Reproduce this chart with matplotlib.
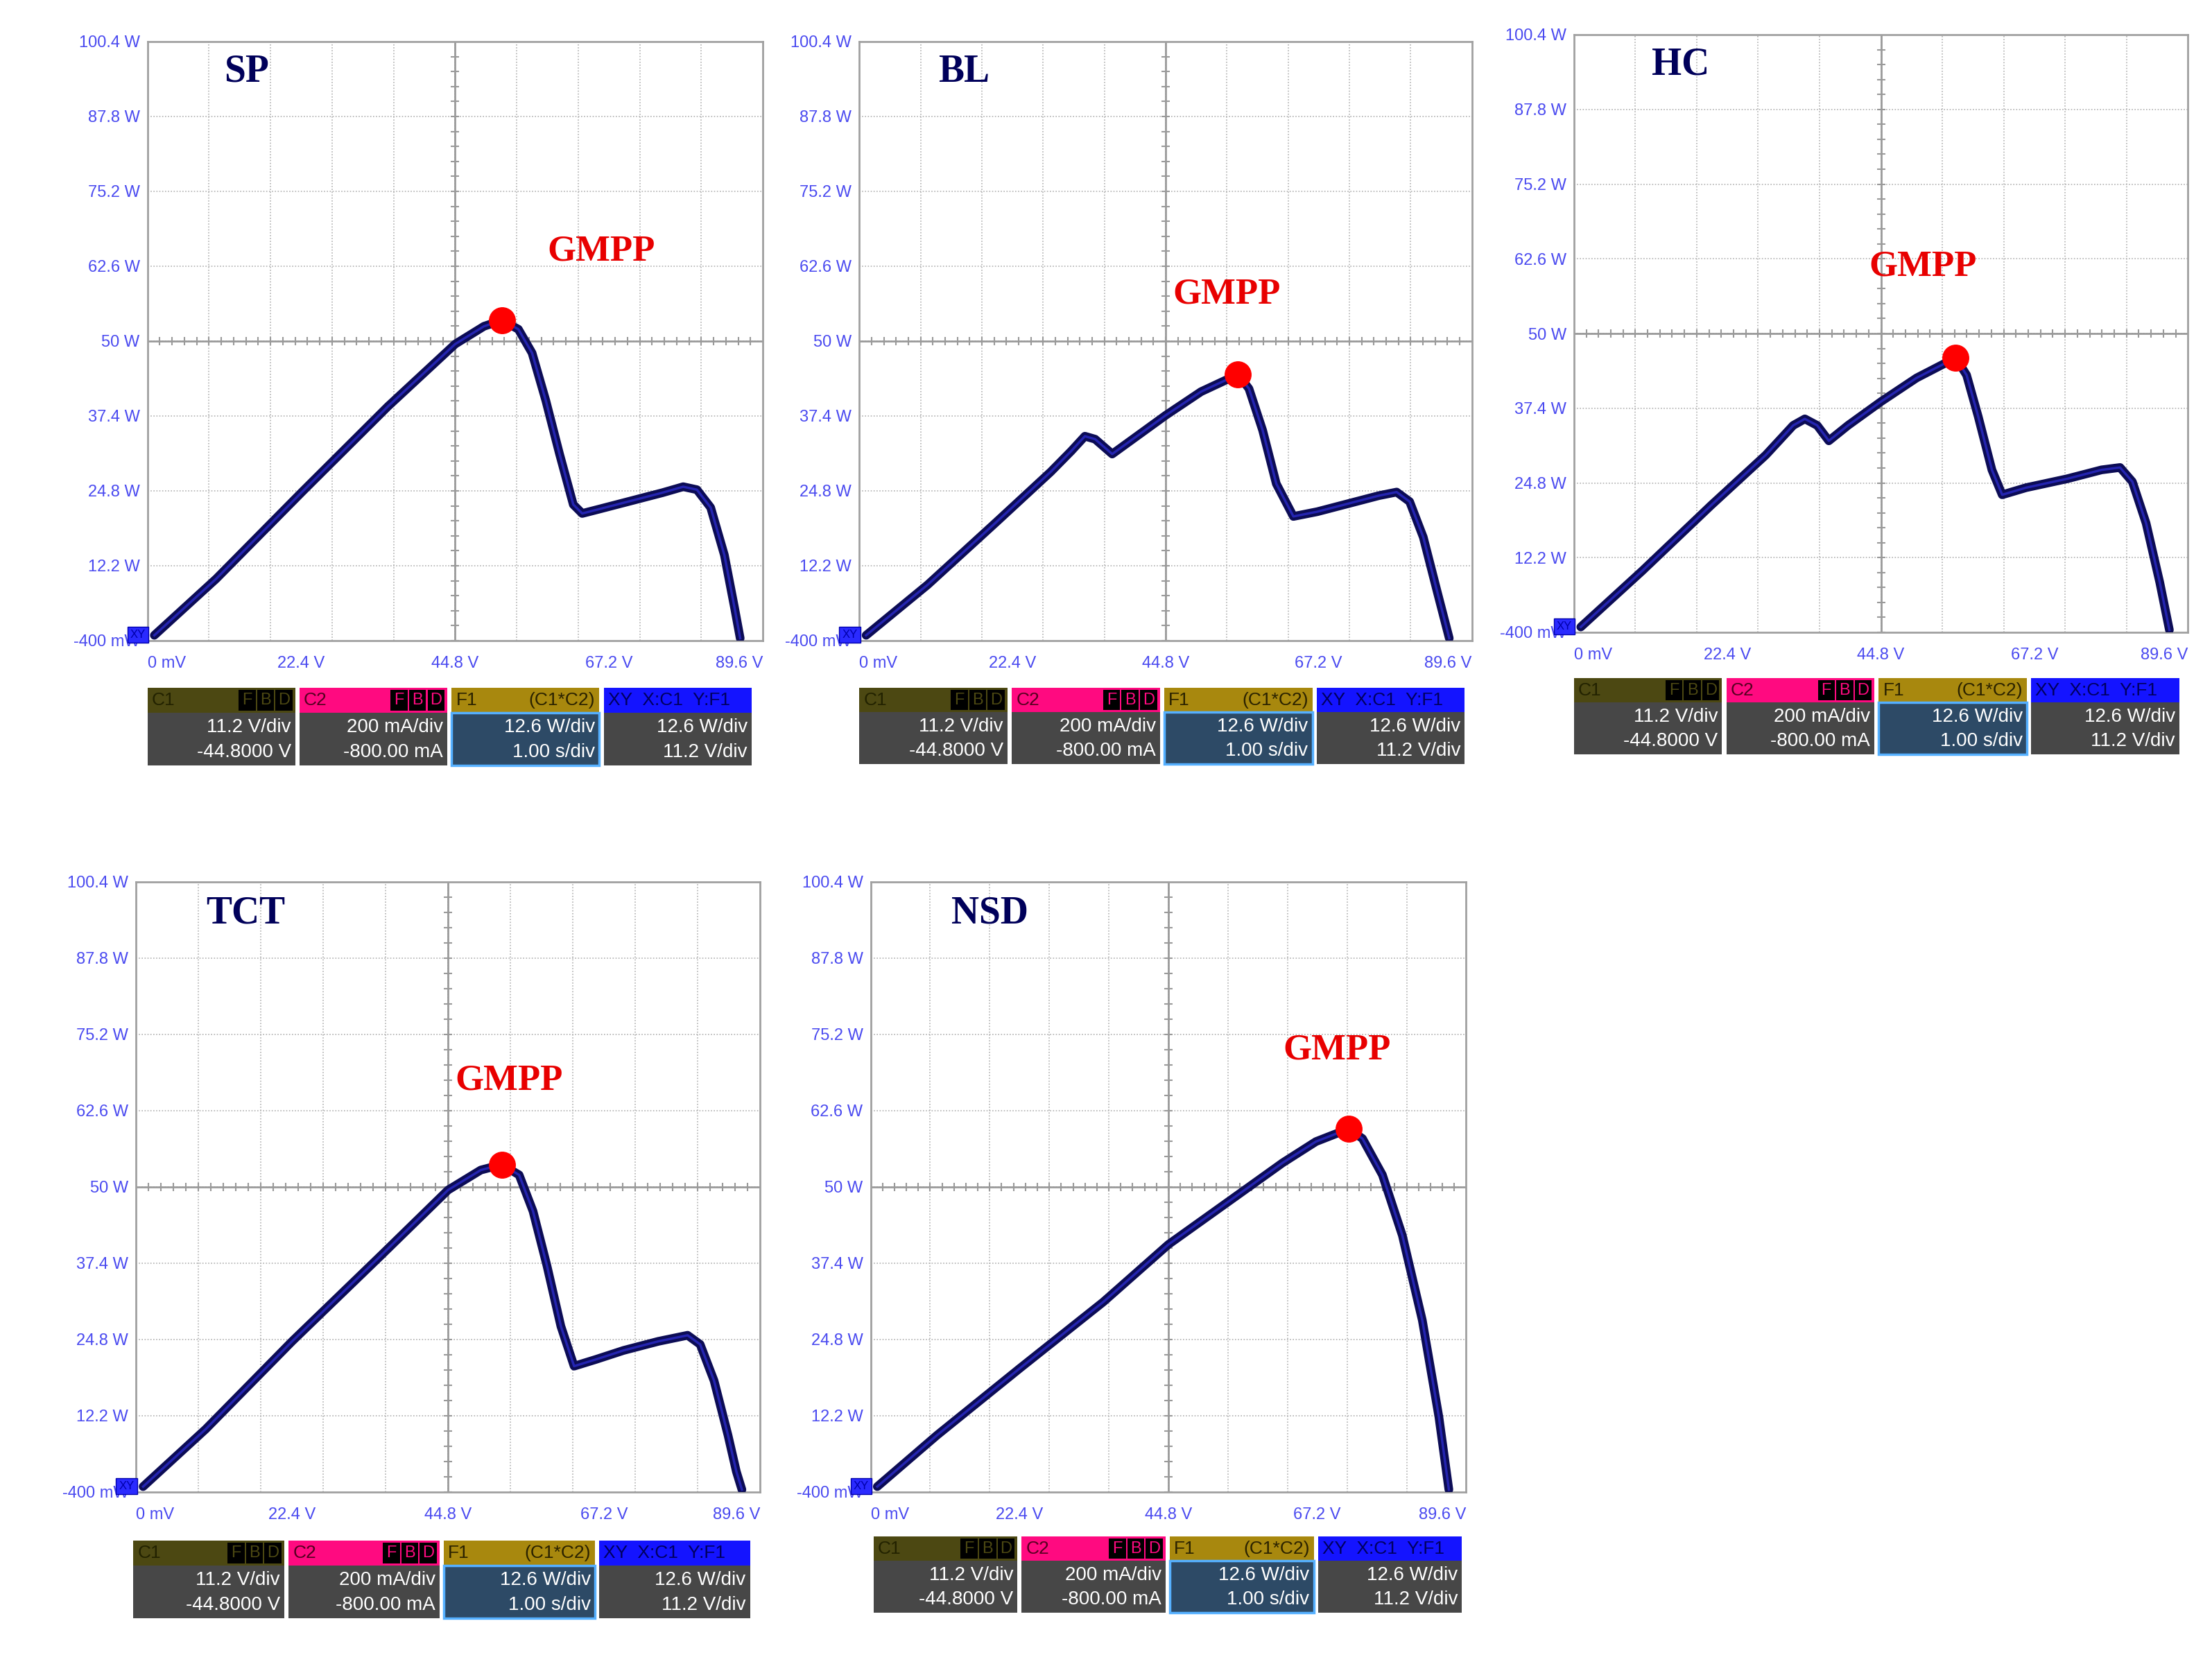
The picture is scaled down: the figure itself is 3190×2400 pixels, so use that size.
import matplotlib
matplotlib.use("Agg")
import matplotlib.pyplot as plt
import numpy as np
from matplotlib.patches import Rectangle

plt.rcParams['font.family'] = ['Liberation Sans Narrow', 'Liberation Sans', 'DejaVu Sans']

# ---------------- data ----------------
panel_names = ["SP", "BL", "HC", "TCT", "NSD"]
y_tick_labels = ["-400 mW", "12.2 W", "24.8 W", "37.4 W", "50 W", "62.6 W", "75.2 W", "87.8 W", "100.4 W"]
x_tick_labels = ["0 mV", "22.4 V", "44.8 V", "67.2 V", "89.6 V"]

sp_v = [1, 10, 22.4, 35, 44.8, 49, 51.6, 54, 56, 58, 60, 62, 63.3, 66, 70, 75, 78, 80, 82, 84, 85.5, 86.3]
sp_p = [0.5, 10, 24.5, 39, 49.5, 52.5, 53.5, 52, 48, 40, 31, 22.5, 21, 21.8, 23, 24.5, 25.5, 25, 22, 14, 5, 0]
bl_v = [1, 10, 20, 28, 31, 33, 34.5, 37, 40, 44.8, 50, 55.4, 57, 59, 61, 63.5, 67, 72, 76, 78.6, 80.5, 82.5, 84.5, 86.3]
bl_p = [0.5, 9, 19.5, 28, 31.5, 34, 33.5, 31, 33.5, 37.5, 41.5, 44.4, 42, 35, 26, 20.5, 21.3, 22.8, 24, 24.6, 23, 17, 8, 0]
hc_v = [1, 10, 20, 28, 32, 33.7, 35.5, 37.2, 40, 44.8, 50, 55.7, 57.3, 59, 61, 62.5, 66, 72, 77, 79.7, 81.5, 83.5, 85.5, 86.9]
hc_p = [0.5, 10, 21, 29.5, 34.5, 35.6, 34.5, 31.9, 34.5, 38.5, 42.5, 45.9, 43, 36, 27, 22.8, 24, 25.5, 27, 27.4, 25, 18, 8, 0]
tct_v = [1, 10, 22.4, 35, 44.8, 49.5, 52.5, 55, 57, 59, 61, 62.9, 66, 70, 75, 79.2, 81, 83, 85, 86.2, 87.0]
tct_p = [0.5, 10, 24.5, 38.5, 49.5, 52.8, 53.7, 52, 46, 37, 27, 20.4, 21.5, 23, 24.5, 25.5, 24, 18, 9, 3, 0]
nsd_v = [1, 10, 22.4, 35, 44.8, 55, 62, 67, 71.9, 74, 77, 80, 83, 85.5, 87.0]
nsd_p = [0.5, 9, 20, 31, 40.5, 48.5, 54, 57.5, 59.6, 58, 52, 42, 28, 12, 0]
curves_v = [sp_v, bl_v, hc_v, tct_v, nsd_v]
curves_p = [sp_p, bl_p, hc_p, tct_p, nsd_p]
gmpp_v = [51.6, 55.4, 55.7, 52.5, 71.9]
gmpp_p = [53.5, 44.4, 45.9, 53.7, 59.6]

info_headers = ["C1", "C2", "F1", "XY  X:C1  Y:F1"]
info_line1 = ["11.2 V/div", "200 mA/div", "12.6 W/div", "12.6 W/div"]
info_line2 = ["-44.8000 V", "-800.00 mA", "1.00 s/div", "11.2 V/div"]

# ---------------- layout (display px of 1560x1200) ----------------
boxes = [(104, 30, 538, 462), (606, 30, 1038, 462), (1110, 25, 1543, 456),
         (96, 636, 536, 1076), (614, 636, 1034, 1076)]
info_boxes = [(104, 496, 530, 552), (606, 496, 1033, 551), (1110, 489, 1537, 544),
              (94, 1111, 529, 1167), (616, 1108, 1031, 1163)]
title_off = [(70, 22), (74, 22), (75, 22), (77, 23), (84, 23)]
gmpp_txt = [(424, 181), (865, 212), (1356, 192), (359, 779), (943, 757)]

W, H = 1560.0, 1200.0
fig = plt.figure(figsize=(31.9, 24), dpi=100)

lab_col = '#4a4af0'
for i in range(5):
    x0, y0, x1, y1 = boxes[i]
    ax = fig.add_axes([x0 / W, 1 - y1 / H, (x1 - x0) / W, (y1 - y0) / H])
    ax.set_xlim(0, 89.6)
    ax.set_ylim(-0.4, 100.4)
    for xv in np.arange(1, 10) * 8.96:
        ax.axvline(xv, color='#b0b0b0', lw=1.2, ls=(0, (1, 1.5)), zorder=1)
    for yv in -0.4 + np.arange(1, 8) * 12.6:
        ax.axhline(yv, color='#b0b0b0', lw=1.2, ls=(0, (1, 1.5)), zorder=1)
    ax.axvline(44.8, color='#9a9a9a', lw=2, zorder=1)
    ax.axhline(50, color='#9a9a9a', lw=2, zorder=1)
    mx = np.arange(0, 50) * 8.96 / 5
    ax.plot(mx, np.full_like(mx, 50), ls='none', marker='|', ms=9, mew=1.5, color='#9a9a9a', zorder=1)
    my = -0.4 + np.arange(0, 40) * 12.6 / 5
    ax.plot(np.full_like(my, 44.8), my, ls='none', marker='_', ms=9, mew=1.5, color='#9a9a9a', zorder=1)
    for s in ax.spines.values():
        s.set_color('#a0a0a0'); s.set_linewidth(2)
    ax.set_yticks(-0.4 + np.arange(9) * 12.6)
    ax.set_yticklabels(y_tick_labels)
    ax.set_xticks(np.arange(5) * 22.4)
    ax.set_xticklabels(x_tick_labels)
    ax.tick_params(axis='y', length=0, labelsize=17, labelcolor=lab_col, pad=8)
    ax.tick_params(axis='x', length=0, labelsize=17, labelcolor=lab_col, pad=16)
    for t, ha in zip(ax.get_xticklabels(), ['left', 'center', 'center', 'center', 'right']):
        t.set_ha(ha)
    ax.plot(curves_v[i], curves_p[i], color='#0c0c55', lw=9, solid_capstyle='round',
            solid_joinstyle='round', zorder=3)
    ax.plot(curves_v[i], curves_p[i], color='#2b2bc8', lw=2.5, alpha=0.8, zorder=4)
    ax.plot(gmpp_v[i], gmpp_p[i], 'o', color='#ff0000', ms=27, zorder=5)
    ax.text(title_off[i][0] / (x1 - x0), 1 - title_off[i][1] / (y1 - y0), panel_names[i],
            transform=ax.transAxes, ha='center', va='center', fontsize=40,
            fontweight='bold', family=['Liberation Serif', 'DejaVu Serif'], color='#00005a')
    gx, gy = gmpp_txt[i]
    fig.text(gx / W, 1 - gy / H, "GMPP", ha='center', va='center', fontsize=38,
             fontweight='bold', family=['Liberation Serif', 'DejaVu Serif'], color='#e80000')
    ax.text(-0.003, 0.01, "XY", transform=ax.transAxes, ha='right', va='center', fontsize=12,
            color='#0000aa', bbox=dict(boxstyle='square,pad=0.25', fc='#2a2aff', ec='#0000aa'), zorder=6,
            clip_on=False)

    # info boxes
    bx0, by0, bx1, by1 = info_boxes[i]
    gap = 3
    cw = (bx1 - bx0 - 3 * gap) / 4.0
    hh = (by1 - by0) * 0.32
    hdr_cols = ['#4c4812', '#ff0a80', '#a8880e', '#1414ff']
    hdr_txt = ['#222200', '#550020', '#2a2200', '#000060']
    body_cols = ['#474747', '#474747', '#2d4a66', '#474747']
    for k in range(4):
        cx0 = bx0 + k * (cw + gap)
        fx, fw = cx0 / W, cw / W
        fy_top = 1 - by0 / H
        fy_hdr = 1 - (by0 + hh) / H
        fy_bot = 1 - by1 / H
        fig.patches.append(Rectangle((fx, fy_hdr), fw, fy_top - fy_hdr, transform=fig.transFigure,
                                     fc=hdr_cols[k], ec='none'))
        ec = '#55b0ff' if k == 2 else 'none'
        fig.patches.append(Rectangle((fx, fy_bot), fw, fy_hdr - fy_bot, transform=fig.transFigure,
                                     fc=body_cols[k], ec=ec, lw=2.5))
        fig.text(fx + 3 / W, (fy_top + fy_hdr) / 2, info_headers[k], ha='left', va='center',
                 fontsize=19, color=hdr_txt[k])
        if k < 2:
            for j, ch in enumerate("FBD"):
                bxl = cx0 + cw - (3 - j) * 13 - 1
                fig.patches.append(Rectangle((bxl / W, fy_hdr + 1.5 / H), 12 / W, (hh - 3) / H,
                                             transform=fig.transFigure, fc='#000000', ec='none'))
                fig.text((bxl + 6) / W, (fy_top + fy_hdr) / 2, ch, ha='center', va='center',
                         fontsize=17, color=hdr_cols[k])
        if k == 2:
            fig.text(fx + fw - 3 / W, (fy_top + fy_hdr) / 2, "(C1*C2)", ha='right', va='center',
                     fontsize=19, color=hdr_txt[k])
        body_h = fy_hdr - fy_bot
        fig.text(fx + fw - 3 / W, fy_bot + body_h * 0.72, info_line1[k], ha='right', va='center',
                 fontsize=20, color='white')
        fig.text(fx + fw - 3 / W, fy_bot + body_h * 0.25, info_line2[k], ha='right', va='center',
                 fontsize=20, color='white')

fig.savefig("out.png", dpi=100, facecolor='white')
